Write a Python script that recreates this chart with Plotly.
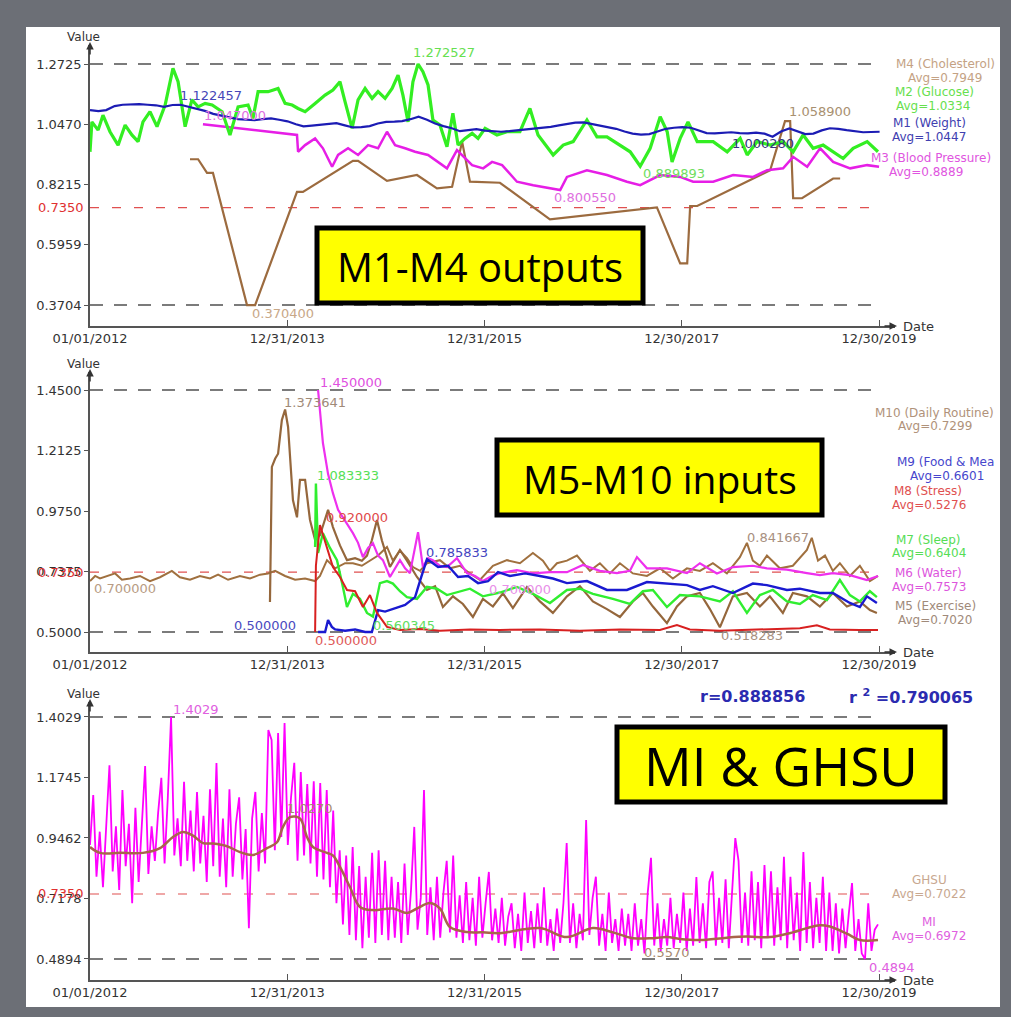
import pandas as pd
import plotly.graph_objects as go

W, H = 1011, 1017
BASE = pd.Timestamp("2012-01-01")


def to_dates(days):
    return BASE + pd.to_timedelta(days, unit="D")


# ---------------- tick data ----------------
TICK_DATES = ["2012-01-01", "2013-12-31", "2015-12-31", "2017-12-30", "2019-12-30"]
TICK_TEXT = ["01/01/2012", "12/31/2013", "12/31/2015", "12/30/2017", "12/30/2019"]
P1_TICKS = [0.3704, 0.5959, 0.8215, 1.0470, 1.2725]
P2_TICKS = [0.5000, 0.7375, 0.9750, 1.2125, 1.4500]
P3_TICKS = [0.4894, 0.7178, 0.9462, 1.1745, 1.4029]
THRESHOLD = 0.7350

# ---------------- panel 1: M1-M4 outputs ----------------
m1_weight = [1.100, 1.096, 1.100, 1.115, 1.120, 1.121, 1.1225, 1.120, 1.118, 1.112,
             1.119, 1.120, 1.112, 1.103, 1.097, 1.086, 1.080, 1.072, 1.066, 1.064,
             1.062, 1.066, 1.069, 1.064, 1.058, 1.047, 1.039, 1.042, 1.045, 1.048,
             1.051, 1.043, 1.035, 1.036, 1.040, 1.050, 1.056, 1.057, 1.059, 1.066,
             1.075, 1.064, 1.050, 1.040, 1.032, 1.021, 1.025, 1.029, 1.023, 1.021,
             1.019, 1.021, 1.024, 1.026, 1.030, 1.033, 1.037, 1.043, 1.049, 1.053,
             1.054, 1.048, 1.044, 1.038, 1.030, 1.020, 1.012, 1.008, 1.010, 1.020,
             1.030, 1.034, 1.036, 1.034, 1.024, 1.014, 1.013, 1.016, 1.017, 1.014,
             1.013, 1.016, 1.012, 1.0003, 1.020, 1.031, 1.020, 1.010, 1.012, 1.024,
             1.032, 1.030, 1.025, 1.022, 1.017, 1.018, 1.019]

m2_days = [0, 7, 30, 48, 74, 104, 130, 155, 178, 196,
           222, 248, 278, 307, 326, 352, 377, 400, 426, 452,
           489, 518, 548, 585, 603, 622, 659, 696, 722, 748,
           770, 796, 833, 870, 899, 925, 944, 970, 992, 1018,
           1044, 1066, 1092, 1118, 1140, 1158, 1177, 1195, 1214, 1232,
           1251, 1269, 1295, 1321, 1343, 1362, 1388, 1414, 1436, 1462,
           1506, 1543, 1591, 1628, 1658, 1714, 1751, 1788, 1839, 1876,
           1913, 1962, 1999, 2036, 2073, 2110, 2136, 2154, 2184, 2213,
           2247, 2306, 2358, 2406, 2432, 2469, 2517, 2565, 2602, 2639,
           2676, 2713, 2750, 2787, 2824, 2876, 2916]
m2_glucose = [0.944, 1.056, 1.025, 1.081, 1.019, 0.969, 1.044, 1.007, 0.982, 1.056,
              1.094, 1.038, 1.119, 1.256, 1.206, 1.038, 1.138, 1.112, 1.125, 1.119,
              1.094, 1.007, 1.112, 1.119, 1.069, 1.169, 1.169, 1.181, 1.125, 1.119,
              1.106, 1.094, 1.125, 1.156, 1.175, 1.206, 1.131, 1.032, 1.138, 1.181,
              1.144, 1.169, 1.144, 1.181, 1.231, 1.156, 1.056, 1.206, 1.2725, 1.244,
              1.194, 1.063, 1.044, 0.963, 1.088, 0.969, 0.994, 1.013, 0.994, 1.032,
              1.007, 1.019, 1.019, 1.106, 1.007, 0.932, 0.969, 0.982, 1.063, 1.000,
              1.000, 0.969, 0.944, 0.8899, 0.957, 1.075, 1.019, 0.906, 0.994, 1.056,
              0.982, 0.982, 0.944, 0.994, 0.932, 0.982, 0.969, 0.982, 0.944, 1.007,
              0.957, 0.969, 0.944, 0.919, 0.957, 0.982, 0.944]

m3_days = [418, 766, 770, 796, 833, 862, 896, 918, 955, 992,
           1029, 1066, 1099, 1129, 1166, 1203, 1251, 1303, 1321, 1358,
           1414, 1455, 1488, 1525, 1580, 1640, 1714, 1740, 1765, 1839,
           1913, 1987, 2036, 2110, 2184, 2232, 2306, 2380, 2454, 2506,
           2565, 2602, 2654, 2702, 2750, 2813, 2876, 2920]
m3_bp = [1.047, 1.007, 0.944, 0.969, 0.994, 0.957, 0.888, 0.932, 0.957, 0.932,
         0.969, 0.957, 1.019, 0.969, 0.957, 0.944, 0.932, 0.894, 0.882, 0.950,
         0.894, 0.882, 0.906, 0.894, 0.832, 0.819, 0.807, 0.8006, 0.850, 0.875,
         0.857, 0.832, 0.819, 0.857, 0.850, 0.832, 0.832, 0.857, 0.850, 0.875,
         0.882, 0.925, 0.888, 0.957, 0.906, 0.882, 0.894, 0.888]

m4_days = [370, 400, 433, 455, 581, 611, 766, 788, 973, 992,
           1099, 1210, 1284, 1340, 1377, 1406, 1517, 1702, 2098, 2184,
           2210, 2221, 2247, 2517, 2572, 2591, 2602, 2635, 2750, 2776]
m4_chol = [0.916, 0.916, 0.865, 0.865, 0.3704, 0.3704, 0.794, 0.794, 0.910, 0.910,
           0.835, 0.857, 0.807, 0.813, 0.982, 0.832, 0.828, 0.691, 0.736, 0.526,
           0.526, 0.741, 0.741, 0.875, 1.0589, 1.0589, 0.770, 0.770, 0.844, 0.844]

# ---------------- panel 2: M5-M10 inputs ----------------
m10_days = [0, 19, 37, 67, 93, 118, 148, 185, 222, 259,
            303, 333, 370, 407, 444, 474, 511, 555, 592, 629,
            659, 685, 722, 759, 796, 833, 851, 877, 907, 944,
            973, 1006, 1036, 1066, 1099, 1121, 1147, 1173, 1195, 1221,
            1247, 1295, 1332, 1369, 1406, 1443, 1491, 1543, 1591, 1639,
            1676, 1702, 1728, 1765, 1802, 1850, 1887, 1924, 1961, 2009,
            2061, 2109, 2157, 2209, 2257, 2305, 2357, 2405, 2431, 2453,
            2479, 2505, 2553, 2601, 2653, 2671, 2694, 2720, 2749, 2775,
            2812, 2849, 2886, 2916]
m10_routine = [0.70, 0.72, 0.71, 0.72, 0.73, 0.705, 0.71, 0.72, 0.70, 0.715,
               0.74, 0.715, 0.705, 0.72, 0.71, 0.725, 0.705, 0.72, 0.71, 0.725,
               0.73, 0.74, 0.72, 0.705, 0.71, 0.70, 0.72, 0.782, 0.75, 0.77,
               0.77, 0.76, 0.78, 0.80, 0.834, 0.78, 0.82, 0.79, 0.755, 0.74,
               0.77, 0.782, 0.75, 0.76, 0.73, 0.704, 0.76, 0.782, 0.77, 0.81,
               0.78, 0.74, 0.77, 0.78, 0.80, 0.74, 0.77, 0.73, 0.77, 0.73,
               0.72, 0.75, 0.71, 0.75, 0.74, 0.77, 0.73, 0.794, 0.85, 0.78,
               0.76, 0.80, 0.75, 0.76, 0.822, 0.87, 0.78, 0.80, 0.74, 0.77,
               0.72, 0.76, 0.70, 0.72]

m5_days = [666, 673, 685, 696, 710, 722, 733, 751, 766, 777,
           796, 814, 833, 851, 881, 899, 925, 951, 981, 1006,
           1025, 1043, 1062, 1080, 1110, 1147, 1173, 1210, 1247, 1277,
           1306, 1343, 1380, 1417, 1454, 1491, 1528, 1565, 1617, 1665,
           1713, 1765, 1813, 1861, 1913, 1961, 2009, 2046, 2083, 2135,
           2172, 2209, 2257, 2294, 2331, 2379, 2431, 2479, 2516, 2564,
           2601, 2653, 2701, 2749, 2801, 2849, 2886, 2912]
m5_exercise = [0.618, 1.148, 1.18, 1.20, 1.332, 1.3736, 1.305, 1.018, 0.95, 1.097,
               1.097, 0.94, 0.861, 0.88, 0.98, 0.912, 0.84, 0.782, 0.79, 0.78,
               0.80, 0.86, 0.94, 0.86, 0.755, 0.822, 0.78, 0.716, 0.665, 0.68,
               0.598, 0.64, 0.61, 0.559, 0.63, 0.60, 0.652, 0.594, 0.677, 0.62,
               0.575, 0.64, 0.68, 0.62, 0.59, 0.559, 0.62, 0.653, 0.60, 0.535,
               0.60, 0.64, 0.653, 0.59, 0.5183, 0.64, 0.653, 0.60, 0.64, 0.575,
               0.653, 0.64, 0.60, 0.653, 0.60, 0.62, 0.586, 0.575]

m6_days = [844, 862, 881, 899, 918, 936, 955, 973, 992, 1010,
           1029, 1047, 1066, 1084, 1110, 1129, 1147, 1166, 1184, 1214,
           1232, 1251, 1269, 1295, 1321, 1358, 1395, 1425, 1454, 1487,
           1517, 1580, 1639, 1702, 1765, 1824, 1887, 1950, 1998, 2024,
           2061, 2135, 2209, 2257, 2320, 2379, 2453, 2505, 2579, 2653,
           2701, 2749, 2812, 2875, 2916]
m6_water = [1.45, 1.242, 1.12, 1.045, 0.98, 0.951, 0.92, 0.888, 0.85, 0.794,
            0.83, 0.849, 0.80, 0.782, 0.716, 0.75, 0.782, 0.75, 0.731, 0.892,
            0.755, 0.79, 0.782, 0.76, 0.755, 0.79, 0.731, 0.72, 0.70, 0.72,
            0.731, 0.743, 0.73, 0.735, 0.735, 0.763, 0.74, 0.731, 0.74, 0.794,
            0.75, 0.75, 0.731, 0.770, 0.73, 0.755, 0.76, 0.75, 0.745, 0.731,
            0.723, 0.731, 0.723, 0.704, 0.72]

m7_days = [833, 836, 844, 862, 888, 914, 936, 951, 973, 999,
           1025, 1047, 1073, 1099, 1121, 1147, 1173, 1210, 1247, 1284,
           1321, 1369, 1406, 1454, 1517, 1580, 1639, 1702, 1765, 1813,
           1861, 1935, 1998, 2046, 2083, 2135, 2183, 2257, 2331, 2379,
           2431, 2479, 2527, 2579, 2627, 2675, 2727, 2775, 2812, 2849,
           2886, 2912]
m7_sleep = [0.834, 1.0833, 0.81, 0.888, 0.83, 0.782, 0.677, 0.598, 0.65, 0.63,
            0.575, 0.5603, 0.692, 0.70, 0.69, 0.66, 0.637, 0.63, 0.677, 0.67,
            0.645, 0.66, 0.67, 0.64, 0.655, 0.677, 0.65, 0.614, 0.665, 0.67,
            0.65, 0.63, 0.61, 0.66, 0.665, 0.598, 0.645, 0.64, 0.62, 0.66,
            0.575, 0.645, 0.665, 0.62, 0.61, 0.645, 0.625, 0.704, 0.645, 0.62,
            0.66, 0.637]

m8_days = [833, 836, 851, 877, 899, 925, 951, 981, 1010, 1036,
           1062, 1099, 1147, 1221, 1295, 1406, 1517, 1665, 1813, 1961,
           2109, 2172, 2220, 2331, 2479, 2627, 2690, 2738, 2849, 2916]
m8_stress = [0.50, 0.76, 0.92, 0.834, 0.755, 0.716, 0.665, 0.66, 0.598, 0.645,
             0.575, 0.52, 0.508, 0.512, 0.505, 0.51, 0.508, 0.51, 0.505, 0.51,
             0.508, 0.527, 0.51, 0.505, 0.51, 0.515, 0.526, 0.51, 0.508, 0.508]

m9_days = [844, 870, 881, 895, 907, 944, 981, 1018, 1043, 1066,
           1092, 1117, 1147, 1166, 1184, 1203, 1221, 1247, 1269, 1288,
           1325, 1362, 1399, 1436, 1473, 1510, 1554, 1610, 1665, 1713,
           1765, 1839, 1913, 1987, 2061, 2135, 2209, 2257, 2305, 2379,
           2453, 2505, 2579, 2627, 2701, 2749, 2812, 2849, 2875, 2912]
m9_food = [0.50, 0.50, 0.547, 0.52, 0.51, 0.505, 0.51, 0.50, 0.50, 0.586,
           0.58, 0.59, 0.60, 0.606, 0.62, 0.637, 0.70, 0.7858, 0.77, 0.755,
           0.76, 0.716, 0.72, 0.692, 0.70, 0.735, 0.72, 0.73, 0.72, 0.71,
           0.692, 0.70, 0.665, 0.665, 0.696, 0.69, 0.684, 0.665, 0.68, 0.653,
           0.69, 0.684, 0.665, 0.67, 0.653, 0.653, 0.614, 0.598, 0.64, 0.614]

# ---------------- panel 3: MI & GHSU ----------------
mi_values = [0.92, 1.108, 0.80, 0.97, 0.76, 1.00, 1.221, 0.82, 0.99, 0.75,
             1.127, 0.84, 1.00, 0.70, 1.06, 0.78, 0.98, 1.218, 0.81, 0.99,
             0.86, 1.04, 1.173, 0.85, 1.10, 1.403, 0.88, 1.02, 0.84, 1.158,
             0.86, 1.05, 0.82, 1.12, 0.85, 1.03, 0.78, 1.13, 0.84, 1.229,
             0.80, 1.02, 0.76, 1.13, 0.80, 1.00, 1.10, 0.79, 0.98, 0.606,
             1.02, 1.12, 0.82, 1.04, 0.85, 1.354, 1.316, 0.90, 1.342, 0.95,
             1.38, 0.92, 1.10, 1.23, 0.86, 1.195, 0.88, 1.15, 0.85, 1.16,
             0.80, 1.154, 0.79, 1.127, 0.76, 1.05, 0.70, 0.90, 0.62, 0.88,
             0.58, 0.912, 0.56, 0.84, 0.53, 0.80, 0.57, 0.89, 0.55, 0.90,
             0.58, 0.86, 0.56, 0.80, 0.57, 0.78, 0.55, 0.85, 0.58, 0.75,
             0.988, 0.60, 0.72, 1.127, 0.58, 0.76, 0.56, 0.80, 0.57, 0.74,
             0.86, 0.59, 0.88, 0.57, 0.73, 0.55, 0.78, 0.56, 0.72, 0.54,
             0.80, 0.57, 0.70, 0.818, 0.56, 0.68, 0.55, 0.72, 0.54, 0.65,
             0.70, 0.53, 0.66, 0.52, 0.74, 0.55, 0.67, 0.53, 0.70, 0.55,
             0.76, 0.54, 0.64, 0.52, 0.68, 0.55, 0.70, 0.927, 0.55, 0.70,
             0.53, 0.66, 0.56, 1.014, 0.58, 0.72, 0.80, 0.54, 0.66, 0.52,
             0.74, 0.55, 0.64, 0.52, 0.68, 0.54, 0.66, 0.52, 0.70, 0.54,
             0.64, 0.51, 0.74, 0.871, 0.54, 0.70, 0.52, 0.64, 0.54, 0.72,
             0.53, 0.66, 0.55, 0.74, 0.52, 0.68, 0.54, 0.799, 0.55, 0.70,
             0.53, 0.78, 0.82, 0.54, 0.72, 0.55, 0.79, 0.53, 0.74, 0.946,
             0.86, 0.55, 0.74, 0.54, 0.82, 0.56, 0.78, 0.53, 0.844, 0.57,
             0.82, 0.54, 0.76, 0.56, 0.875, 0.53, 0.80, 0.56, 0.74, 0.52,
             0.893, 0.55, 0.78, 0.53, 0.72, 0.55, 0.80, 0.52, 0.74, 0.52,
             0.70, 0.51, 0.68, 0.53, 0.66, 0.776, 0.52, 0.64, 0.51, 0.4894,
             0.70, 0.52, 0.60, 0.62]
MI_STEP_DAYS = 12

ghsu_days = [0, 37, 111, 196, 259, 307, 344, 381, 418, 455,
             507, 555, 603, 655, 692, 714, 740, 777, 803, 825,
             877, 899, 925, 962, 999, 1047, 1121, 1173, 1210, 1258,
             1295, 1332, 1395, 1454, 1517, 1665, 1765, 1861, 1935, 2009,
             2083, 2135, 2183, 2257, 2357, 2431, 2516, 2601, 2653, 2701,
             2738, 2801, 2849, 2916]
ghsu_values = [0.912, 0.89, 0.89, 0.89, 0.908, 0.95, 0.969, 0.955, 0.927, 0.925,
               0.915, 0.893, 0.882, 0.908, 0.93, 0.988, 1.025, 1.02, 0.95, 0.912,
               0.89, 0.88, 0.837, 0.761, 0.686, 0.674, 0.68, 0.663, 0.68, 0.701,
               0.68, 0.610, 0.591, 0.59, 0.587, 0.606, 0.572, 0.606, 0.59, 0.568,
               0.568, 0.572, 0.565, 0.561, 0.57, 0.574, 0.572, 0.59, 0.606, 0.617,
               0.612, 0.585, 0.561, 0.561]


# ---------------- helpers (layout positions in page pixels) ----------------
def px(x):
    return x / W


def py(y):
    return 1 - y / H


fig = go.Figure()


def line(days, vals, color, width, ax, shape="linear"):
    fig.add_trace(go.Scatter(x=to_dates(days), y=vals, mode="lines",
                             line=dict(color=color, width=width, shape=shape),
                             xaxis="x" + ax, yaxis="y" + ax,
                             hoverinfo="skip", showlegend=False))


m1_dates = pd.date_range("2012-01-01", periods=len(m1_weight), freq="MS")
m1_days = [(d - BASE).days for d in m1_dates]

# panel 1
line(m4_days, m4_chol, "#9c6b3f", 2.2, "")
line(m3_days, m3_bp, "#e61ee6", 2.5, "")
line(m2_days, m2_glucose, "#33ee22", 3.2, "")
line(m1_days, m1_weight, "#1c1cb4", 2.2, "")
# panel 2
line(m10_days, m10_routine, "#a0703f", 2, "2")
line(m5_days, m5_exercise, "#95673c", 2.2, "2")
line(m6_days, m6_water, "#ee30ee", 2.2, "2")
line(m7_days, m7_sleep, "#30ee30", 2.4, "2")
line(m9_days, m9_food, "#1a1ad0", 2.4, "2")
line(m8_days, m8_stress, "#d82020", 2, "2")
# panel 3
mi_days = [i * MI_STEP_DAYS for i in range(len(mi_values))]
line(mi_days, mi_values, "#ff00ff", 1.8, "3")
line(ghsu_days, ghsu_values, "#a8644c", 2.5, "3", shape="spline")

# ---------------- axes ----------------
FONT = "DejaVu Sans"
xcommon = dict(type="date", range=["2012-01-01", "2020-02-27"],
               tickvals=TICK_DATES, ticktext=TICK_TEXT,
               ticks="inside", ticklen=6, tickwidth=1.2, tickcolor="#555",
               showline=True, linecolor="#555", linewidth=1.5,
               showgrid=False, zeroline=False, automargin=False,
               tickfont=dict(family=FONT, size=13, color="#333"),
               domain=[px(90), px(895)])


def yax(rng, ticks, dom, anchor):
    return dict(range=rng, tickvals=ticks, ticktext=["%.4f" % t for t in ticks],
                ticks="outside", ticklen=4, tickwidth=1.2, tickcolor="#555",
                showline=True, linecolor="#555", linewidth=1.5,
                showgrid=False, zeroline=False, automargin=False,
                tickfont=dict(family=FONT, size=13, color="#333"),
                domain=dom, anchor=anchor)


P1 = dict(rng=[0.2920, 1.3436], top=45, bot=326)
P2 = dict(rng=[0.4215, 1.5207], top=372, bot=652)
P3 = dict(rng=[0.4101, 1.4595], top=702, bot=980)

layout = dict(
    width=W, height=H, autosize=False,
    margin=dict(l=0, r=0, t=0, b=0, pad=0, autoexpand=False),
    paper_bgcolor="#6c6f76", plot_bgcolor="rgba(0,0,0,0)",
    showlegend=False,
    xaxis=dict(xcommon, anchor="y"),
    xaxis2=dict(xcommon, anchor="y2"),
    xaxis3=dict(xcommon, anchor="y3"),
    yaxis=yax(P1["rng"], P1_TICKS, [py(P1["bot"]), py(P1["top"])], "x"),
    yaxis2=yax(P2["rng"], P2_TICKS, [py(P2["bot"]), py(P2["top"])], "x2"),
    yaxis3=yax(P3["rng"], P3_TICKS, [py(P3["bot"]), py(P3["top"])], "x3"),
)
fig.update_layout(**layout)

shapes = [dict(type="rect", xref="paper", yref="paper", x0=px(26), x1=px(1000),
               y0=py(1007), y1=py(27), fillcolor="white", line=dict(width=0), layer="below")]

panels = [("", P1_TICKS, P1), ("2", P2_TICKS, P2), ("3", P3_TICKS, P3)]
for ax, ticks, P in panels:
    for v, col, dash, w in [(ticks[-1], "#505050", "13px,11px", 1.5),
                            (ticks[0], "#505050", "13px,11px", 1.5),
                            (THRESHOLD, "#e05050", "9px,13px", 1.1)]:
        shapes.append(dict(type="line", xref="x" + ax, yref="y" + ax,
                           x0=TICK_DATES[0], x1=TICK_DATES[-1], y0=v, y1=v,
                           line=dict(color=col, width=w, dash=dash), layer="below"))

# yellow title boxes
boxes = [((317, 228, 643, 303), "M1-M4 outputs", 40),
         ((497, 440, 822, 515), "M5-M10 inputs", 39),
         ((617, 727, 945, 802), "MI & GHSU", 53)]
annotations = []
for (x0, y0, x1, y1), txt_s, fs in boxes:
    shapes.append(dict(type="rect", xref="paper", yref="paper", x0=px(x0), x1=px(x1),
                       y0=py(y1), y1=py(y0), fillcolor="#ffff00",
                       line=dict(color="black", width=5), layer="above"))
    annotations.append(dict(xref="paper", yref="paper", x=px((x0 + x1) / 2), y=py((y0 + y1) / 2 + 1),
                            text=txt_s, showarrow=False, xanchor="center", yanchor="middle",
                            font=dict(family="Open Sans", size=fs, color="black")))

fig.update_layout(shapes=shapes)


def txt(x, y, s, color, size=12, xanchor="center", bold=False, family=FONT):
    if bold:
        s = "<b>" + s + "</b>"
    annotations.append(dict(xref="paper", yref="paper", x=px(x), y=py(y), text=s,
                            showarrow=False, xanchor=xanchor, yanchor="middle",
                            font=dict(family=family, size=size, color=color)))


# axis arrows, "Value" and "Date" labels, red threshold tick labels
for ax, ticks, P in panels:
    annotations.append(dict(xref="paper", yref="paper", x=px(897), y=py(P["bot"]),
                            ax=-14, ay=0, text="", showarrow=True, arrowhead=2,
                            arrowsize=1, arrowwidth=1.5, arrowcolor="#333"))
    annotations.append(dict(xref="paper", yref="paper", x=px(90), y=py(P["top"] - 3),
                            ax=0, ay=14, text="", showarrow=True, arrowhead=2,
                            arrowsize=1, arrowwidth=1.5, arrowcolor="#333"))
    txt(83, P["top"] - 8, "Value", "#333", 12)
    txt(901, P["bot"], "Date", "#333", 13, xanchor="left")
    annotations.append(dict(xref="paper", yref="y" + ax, x=px(86), y=THRESHOLD,
                            text="%.4f" % THRESHOLD, showarrow=False, xanchor="right",
                            yanchor="middle", font=dict(family=FONT, size=13, color="#e03030")))

VS = 13  # value-label font size
LS = 12  # legend-label font size
# panel 1 value labels
txt(444, 53, "1.272527", "#66e050", VS)
txt(211, 95, "1.122457", "#4646b8", VS)
txt(235, 115, "1.047000", "#e070e0", VS)
txt(283, 313, "0.370400", "#c8a888", VS)
txt(585, 197, "0.800550", "#e070e0", VS)
txt(674, 173, "0.889893", "#70dd60", VS)
txt(763, 143, "1.000280", "#34347a", VS)
txt(820, 112, "1.058900", "#a89070", VS)
# panel 1 legend
txt(945, 64, "M4 (Cholesterol)", "#c4a284", LS)
txt(945, 78, "Avg=0.7949", "#c4a284", LS)
txt(934, 92, "M2 (Glucose)", "#66e04d", LS)
txt(933, 106, "Avg=1.0334", "#66e04d", LS)
txt(929, 123, "M1 (Weight)", "#4040b0", LS)
txt(929, 137, "Avg=1.0447", "#4040b0", LS)
txt(931, 158, "M3 (Blood Pressure)", "#e055e0", LS)
txt(926, 172, "Avg=0.8889", "#e055e0", LS)

# panel 2 value labels
txt(351, 382, "1.450000", "#e050e0", VS)
txt(315, 402, "1.373641", "#a08a78", VS)
txt(348, 475, "1.083333", "#55e055", VS)
txt(357, 517, "0.920000", "#e04a4a", VS)
txt(457, 552, "0.785833", "#4444c0", VS)
txt(125, 588, "0.700000", "#b89c84", VS)
txt(520, 589, "0.700000", "#e890e8", VS)
txt(265, 625, "0.500000", "#4a4ac0", VS)
txt(404, 625, "0.560345", "#60dd60", VS)
txt(346, 640, "0.500000", "#e05a5a", VS)
txt(778, 537, "0.841667", "#a89080", VS)
txt(752, 635, "0.518283", "#a89080", VS)
# panel 2 legend
txt(934, 413, "M10 (Daily Routine)", "#b0927a", LS)
txt(935, 426, "Avg=0.7299", "#b0927a", LS)
txt(945, 462, "M9 (Food & Mea", "#4646cc", LS)
txt(947, 476, "Avg=0.6601", "#4646cc", LS)
txt(928, 491, "M8 (Stress)", "#e05050", LS)
txt(929, 505, "Avg=0.5276", "#e05050", LS)
txt(928, 540, "M7 (Sleep)", "#55dd55", LS)
txt(929, 553, "Avg=0.6404", "#55dd55", LS)
txt(928, 573, "M6 (Water)", "#dd55dd", LS)
txt(929, 587, "Avg=0.7573", "#dd55dd", LS)
txt(935, 606, "M5 (Exercise)", "#a08a7a", LS)
txt(935, 620, "Avg=0.7020", "#a08a7a", LS)

# panel 3 labels
txt(196, 709, "1.4029", "#e060e0", VS)
txt(310, 808, "1.0270", "#a88a70", VS)
txt(667, 952, "0.5570", "#a88a70", VS)
txt(892, 967, "0.4894", "#e060e0", VS)
txt(752, 696, "r=0.888856", "#2b2bb0", 16, bold=True)
txt(911, 696, "r <sup>2</sup> =0.790065", "#2b2bb0", 16, bold=True)
txt(929, 880, "GHSU", "#c8a890", LS)
txt(929, 894, "Avg=0.7022", "#c8a890", LS)
txt(929, 922, "MI", "#e060e0", LS)
txt(929, 936, "Avg=0.6972", "#e060e0", LS)

fig.update_layout(annotations=annotations)
fig.write_html("out.html", config={"displayModeBar": False},
               post_script="document.body.style.margin='0px';")
